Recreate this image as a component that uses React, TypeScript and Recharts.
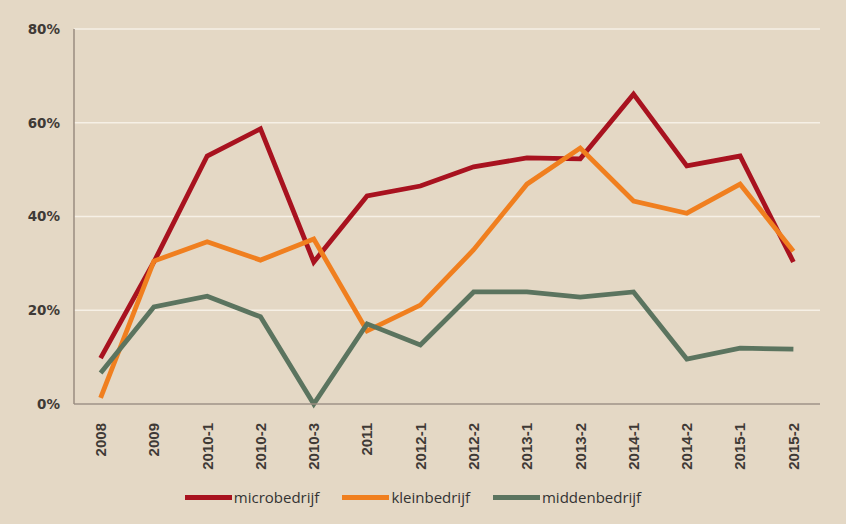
import { LineChart, Line, XAxis, YAxis, CartesianGrid, Legend } from 'recharts';

const periods = [
  '2008', '2009', '2010-1', '2010-2', '2010-3', '2011', '2012-1',
  '2012-2', '2013-1', '2013-2', '2014-1', '2014-2', '2015-1', '2015-2',
];
const micro = [9.8, 30.3, 52.9, 58.7, 30.3, 44.4, 46.5, 50.6, 52.5, 52.3, 66.1, 50.8, 52.9, 30.3];
const klein = [1.3, 30.5, 34.6, 30.7, 35.2, 15.6, 21.1, 32.9, 46.9, 54.6, 43.3, 40.7, 46.9, 32.6];
const midden = [6.6, 20.7, 23.0, 18.6, 0, 17.1, 12.6, 23.9, 23.9, 22.8, 23.9, 9.6, 11.9, 11.7];
const yTicks = [0, 20, 40, 60, 80];

const series = [
  { key: 'micro', name: 'microbedrijf', color: '#a8121f' },
  { key: 'klein', name: 'kleinbedrijf', color: '#f07f1f' },
  { key: 'midden', name: 'middenbedrijf', color: '#5b745f' },
];

const data = periods.map((p, i) => ({
  period: p,
  micro: micro[i],
  klein: klein[i],
  midden: midden[i],
}));

function XTick(props: any) {
  const { x, y, payload } = props;
  return (
    <text
      x={x}
      y={y}
      transform={`rotate(-90, ${x}, ${y})`}
      dx={-11}
      dy="0.36em"
      textAnchor="end"
      fontSize={15}
      fontWeight="bold"
      fontFamily='"Liberation Sans", Arial, sans-serif'
      fill="#3f3a36"
    >
      {payload.value}
    </text>
  );
}

function LegendBox() {
  return (
    <div
      style={{
        display: 'flex',
        justifyContent: 'center',
        alignItems: 'center',
        height: 30,
        paddingLeft: 6,
        fontFamily: '"Open Sans", sans-serif',
        fontSize: 15,
        color: '#333',
      }}
    >
      {series.map((s, i) => (
        <div
          key={s.key}
          style={{ display: 'flex', alignItems: 'center', marginRight: i < series.length - 1 ? 23 : 0 }}
        >
          <span style={{ display: 'inline-block', width: 47, height: 5, background: s.color, marginRight: 2 }} />
          <span>{s.name}</span>
        </div>
      ))}
    </div>
  );
}

export default function App() {
  return (
    <div style={{ position: 'fixed', left: 0, top: 0, width: 846, height: 524, background: '#e4d8c5' }}>
      <LineChart width={846} height={524} data={data} margin={{ top: 29, right: 26, left: 0, bottom: 12 }}>
        <CartesianGrid horizontal vertical={false} stroke="#f6f0e6" strokeWidth={1.5} />
        <XAxis
          dataKey="period"
          interval={0}
          height={78}
          padding={{ left: 26.6, right: 26.6 }}
          tickLine={false}
          stroke="#9a8d7f"
          strokeWidth={1.5}
          tick={<XTick />}
        />
        <YAxis
          width={74}
          domain={[0, 80]}
          ticks={yTicks}
          tickFormatter={(v: number) => `${v}%`}
          tickLine={false}
          tickMargin={8}
          stroke="#9a8d7f"
          strokeWidth={1.5}
          tick={{ fontSize: 13.5, fontWeight: 'bold', fontFamily: '"DejaVu Sans", sans-serif', fill: '#3f3a36' }}
        />
        <Legend verticalAlign="bottom" height={30} content={<LegendBox />} />
        {series.map((s) => (
          <Line
            key={s.key}
            type="linear"
            dataKey={s.key}
            name={s.name}
            stroke={s.color}
            strokeWidth={4.8}
            dot={false}
            activeDot={false}
            isAnimationActive={false}
          />
        ))}
      </LineChart>
    </div>
  );
}
